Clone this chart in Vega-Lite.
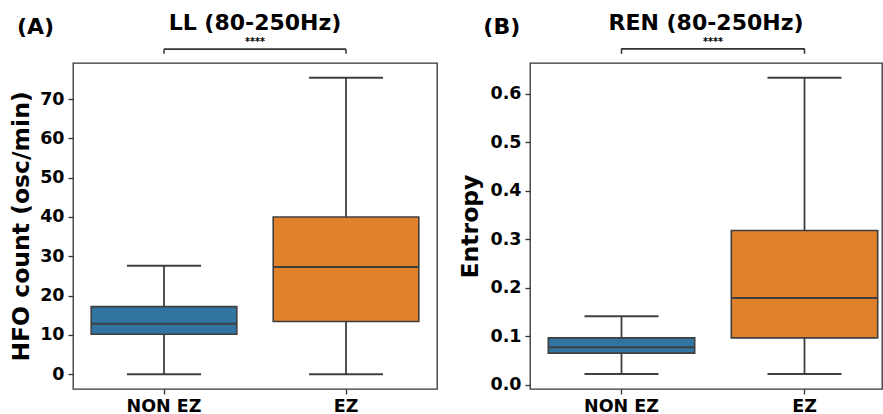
{
  "$schema": "https://vega.github.io/schema/vega-lite/v6.json",
  "padding": {"left": 8, "top": 11, "right": 0, "bottom": 0},
  "config": {
    "font": "DejaVu Sans",
    "view": {"stroke": "#333333", "strokeWidth": 1.3},
    "axis": {"grid": false, "domain": false, "tickColor": "#333333", "tickSize": 5, "tickWidth": 1.3, "labelFont": "DejaVu Sans", "labelFontWeight": "bold", "labelFontSize": 17.5, "labelColor": "#000000", "labelPadding": 4, "titleFont": "DejaVu Sans", "titleFontWeight": "bold", "titleFontSize": 23.5, "titleColor": "#000000", "titlePadding": 6},
    "title": {"font": "DejaVu Sans", "fontWeight": "bold", "fontSize": 22, "color": "#000000"},
    "concat": {"spacing": 20}
  },
  "datasets": {
    "ll": [
      {"group": "NON EZ", "min": 0, "q1": 10.15, "median": 12.8, "q3": 17.2, "max": 27.6},
      {"group": "EZ", "min": 0, "q1": 13.4, "median": 27.3, "q3": 40.0, "max": 75.4}
    ],
    "ren": [
      {"group": "NON EZ", "min": 0.0221, "q1": 0.0654, "median": 0.0777, "q3": 0.0969, "max": 0.1416},
      {"group": "EZ", "min": 0.0221, "q1": 0.0969, "median": 0.1788, "q3": 0.3183, "max": 0.633}
    ]
  },
  "hconcat": [
    {
      "title": {"text": "(A)", "anchor": "start", "frame": "bounds", "offset": -28, "dx": 8},
      "vconcat": [
        {
          "title": {"text": "LL (80-250Hz)", "anchor": "middle", "frame": "group", "offset": 2},
          "width": 364,
          "height": 326,
          "data": {"name": "ll"},
          "encoding": {
            "x": {"field": "group", "type": "nominal", "sort": ["NON EZ", "EZ"], "scale": {"domain": ["NON EZ", "EZ"], "paddingInner": 0, "paddingOuter": 0}, "axis": {"title": null, "labelAngle": 0, "labelPadding": 3}}
          },
          "layer": [
            {
              "mark": {"type": "rule", "color": "#3f3f3f", "strokeWidth": 1.8},
              "encoding": {
                "y": {"field": "min", "type": "quantitative", "title": "HFO count (osc/min)", "scale": {"domain": [-3.77, 79.17], "nice": false, "zero": false}, "axis": {"values": [0, 10, 20, 30, 40, 50, 60, 70]}},
                "y2": {"field": "max"}
              }
            },
            {
              "mark": {"type": "bar", "width": {"band": 0.8}, "stroke": "#3f3f3f", "strokeWidth": 1.6},
              "encoding": {
                "y": {"field": "q1", "type": "quantitative", "title": "HFO count (osc/min)"},
                "y2": {"field": "q3"},
                "color": {"field": "group", "type": "nominal", "scale": {"domain": ["NON EZ", "EZ"], "range": ["#3274a1", "#e1812c"]}, "legend": null}
              }
            },
            {
              "mark": {"type": "tick", "size": 146, "thickness": 2, "color": "#3f3f3f", "opacity": 1},
              "encoding": {"y": {"field": "median", "type": "quantitative", "title": "HFO count (osc/min)"}}
            },
            {
              "mark": {"type": "tick", "size": 74, "thickness": 2, "color": "#3f3f3f", "opacity": 1},
              "encoding": {"y": {"field": "min", "type": "quantitative", "title": "HFO count (osc/min)"}}
            },
            {
              "mark": {"type": "tick", "size": 74, "thickness": 2, "color": "#3f3f3f", "opacity": 1},
              "encoding": {"y": {"field": "max", "type": "quantitative", "title": "HFO count (osc/min)"}}
            },
            {
              "mark": {"type": "rule", "color": "#333333", "strokeWidth": 1.5},
              "encoding": {
                "y": {"datum": 81.5, "type": "quantitative", "title": "HFO count (osc/min)"},
                "y2": {"datum": 82.7}
              }
            },
            {
              "mark": {"type": "rule", "color": "#333333", "strokeWidth": 1.5},
              "encoding": {
                "x": {"datum": "NON EZ"},
                "x2": {"datum": "EZ"},
                "y": {"datum": 82.7, "type": "quantitative", "title": "HFO count (osc/min)"}
              }
            },
            {
              "mark": {"type": "text", "fontSize": 10, "fontWeight": "normal", "color": "#000000", "baseline": "alphabetic", "align": "center"},
              "encoding": {
                "x": {"datum": "NON EZ", "bandPosition": 1},
                "y": {"datum": 83.8, "type": "quantitative", "title": "HFO count (osc/min)"},
                "text": {"value": "****"}
              }
            }
          ]
        }
      ]
    },
    {
      "title": {"text": "(B)", "anchor": "start", "frame": "bounds", "offset": -28, "dx": 25},
      "vconcat": [
        {
          "title": {"text": "REN (80-250Hz)", "anchor": "middle", "frame": "group", "offset": 2},
          "width": 352,
          "height": 326,
          "data": {"name": "ren"},
          "encoding": {
            "x": {"field": "group", "type": "nominal", "sort": ["NON EZ", "EZ"], "scale": {"domain": ["NON EZ", "EZ"], "paddingInner": 0, "paddingOuter": 0, "range": [0, 366]}, "axis": {"title": null, "labelAngle": 0, "labelPadding": 3}}
          },
          "layer": [
            {
              "mark": {"type": "rule", "color": "#3f3f3f", "strokeWidth": 1.8},
              "encoding": {
                "y": {"field": "min", "type": "quantitative", "title": "Entropy", "scale": {"domain": [-0.0086, 0.6636], "nice": false, "zero": false}, "axis": {"values": [0, 0.1, 0.2, 0.3, 0.4, 0.5, 0.6], "format": ".1f", "titlePadding": 7}},
                "y2": {"field": "max"}
              }
            },
            {
              "mark": {"type": "bar", "width": {"band": 0.8}, "stroke": "#3f3f3f", "strokeWidth": 1.6},
              "encoding": {
                "y": {"field": "q1", "type": "quantitative", "title": "Entropy"},
                "y2": {"field": "q3"},
                "color": {"field": "group", "type": "nominal", "scale": {"domain": ["NON EZ", "EZ"], "range": ["#3274a1", "#e1812c"]}, "legend": null}
              }
            },
            {
              "mark": {"type": "tick", "size": 146, "thickness": 2, "color": "#3f3f3f", "opacity": 1},
              "encoding": {"y": {"field": "median", "type": "quantitative", "title": "Entropy"}}
            },
            {
              "mark": {"type": "tick", "size": 74, "thickness": 2, "color": "#3f3f3f", "opacity": 1},
              "encoding": {"y": {"field": "min", "type": "quantitative", "title": "Entropy"}}
            },
            {
              "mark": {"type": "tick", "size": 74, "thickness": 2, "color": "#3f3f3f", "opacity": 1},
              "encoding": {"y": {"field": "max", "type": "quantitative", "title": "Entropy"}}
            },
            {
              "mark": {"type": "rule", "color": "#333333", "strokeWidth": 1.5},
              "encoding": {
                "y": {"datum": 0.6825, "type": "quantitative", "title": "Entropy"},
                "y2": {"datum": 0.6928}
              }
            },
            {
              "mark": {"type": "rule", "color": "#333333", "strokeWidth": 1.5},
              "encoding": {
                "x": {"datum": "NON EZ"},
                "x2": {"datum": "EZ"},
                "y": {"datum": 0.6928, "type": "quantitative", "title": "Entropy"}
              }
            },
            {
              "mark": {"type": "text", "fontSize": 10, "fontWeight": "normal", "color": "#000000", "baseline": "alphabetic", "align": "center"},
              "encoding": {
                "x": {"datum": "NON EZ", "bandPosition": 1},
                "y": {"datum": 0.7014, "type": "quantitative", "title": "Entropy"},
                "text": {"value": "****"}
              }
            }
          ]
        }
      ]
    }
  ]
}
